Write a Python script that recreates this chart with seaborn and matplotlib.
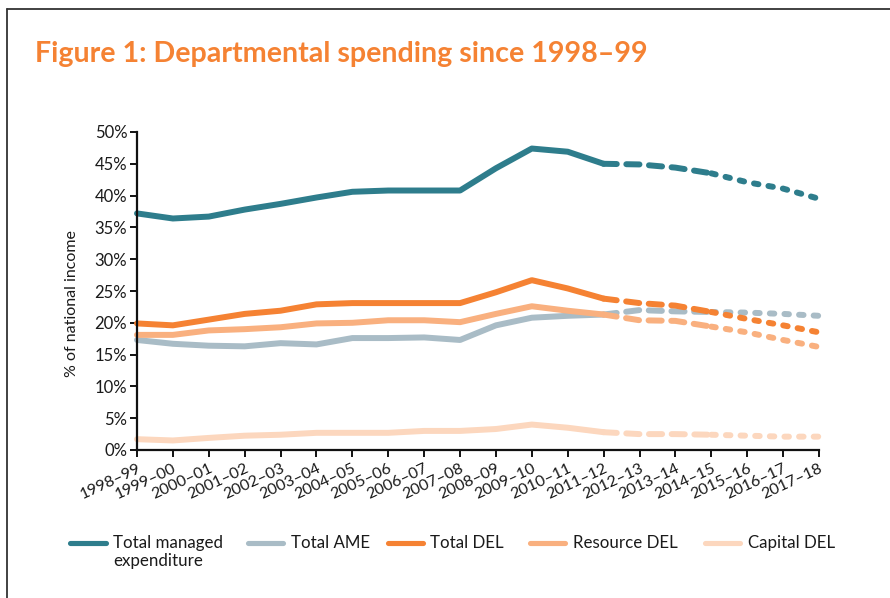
import matplotlib
matplotlib.use("Agg")
import matplotlib.pyplot as plt
from matplotlib.lines import Line2D
import seaborn as sns
import pandas as pd

years = ["1998–99", "1999–00", "2000–01", "2001–02", "2002–03", "2003–04",
         "2004–05", "2005–06", "2006–07", "2007–08", "2008–09", "2009–10",
         "2010–11", "2011–12", "2012–13", "2013–14", "2014–15", "2015–16",
         "2016–17", "2017–18"]

total_managed = [37.2, 36.4, 36.7, 37.8, 38.7, 39.7, 40.6, 40.8, 40.8, 40.8,
                 44.3, 47.4, 46.9, 45.0, 44.9, 44.4, 43.5, 42.1, 41.1, 39.5]
total_ame = [17.3, 16.7, 16.4, 16.3, 16.8, 16.6, 17.6, 17.6, 17.7, 17.3,
             19.6, 20.8, 21.1, 21.3, 22.0, 21.8, 21.7, 21.6, 21.4, 21.1]
total_del = [19.9, 19.6, 20.5, 21.4, 21.9, 22.9, 23.1, 23.1, 23.1, 23.1,
             24.8, 26.7, 25.4, 23.8, 23.1, 22.7, 21.7, 20.6, 19.6, 18.5]
resource_del = [18.1, 18.1, 18.8, 19.0, 19.3, 19.9, 20.0, 20.4, 20.4, 20.1,
                21.4, 22.6, 21.9, 21.3, 20.4, 20.3, 19.4, 18.5, 17.3, 16.2]
capital_del = [1.7, 1.5, 1.9, 2.25, 2.4, 2.7, 2.7, 2.7, 3.0, 3.0,
               3.3, 4.0, 3.5, 2.8, 2.5, 2.5, 2.4, 2.25, 2.1, 2.1]

series_names = ["Total managed\nexpenditure", "Total AME", "Total DEL",
                "Resource DEL", "Capital DEL"]
series_values = [total_managed, total_ame, total_del, resource_del, capital_del]
colors = ["#2e7d8c", "#a9bcc6", "#f58233", "#f9b07f", "#fcd7be"]
y_ticks = [0, 5, 10, 15, 20, 25, 30, 35, 40, 45, 50]

# outturn is solid, the plans are dashed, later projections dotted
last_outturn = 13
last_plan = 16

sns.set_theme(style="white")
plt.rcParams["font.family"] = ["Lato", "DejaVu Sans"]

W, H = 890, 598
fig = plt.figure(figsize=(W / 100, H / 100), dpi=100)
ax = fig.add_axes([137 / W, 1 - 450 / H, (819 - 137) / W, (450 - 132) / H])

lw = 4.3
draw_order = [4, 1, 3, 2, 0]
for i in draw_order:
    df = pd.DataFrame({"x": range(len(years)), "y": series_values[i]})
    segments = [
        (df[df.x <= last_outturn], None),
        (df[(df.x >= last_outturn) & (df.x <= last_plan)], (2.2, 1.6)),
        (df[df.x >= last_plan], (0.75, 1.7)),
    ]
    for seg, dash in segments:
        sns.lineplot(data=seg, x="x", y="y", ax=ax, color=colors[i], lw=lw,
                     solid_capstyle="round", dash_capstyle="round",
                     solid_joinstyle="round", clip_on=False, legend=False)
        if dash is not None:
            ax.lines[-1].set_linestyle((0, dash))

ax.set_xlim(0, len(years) - 1)
ax.set_ylim(0, 50)
ax.set_yticks(y_ticks)
ax.set_yticklabels([f"{v}%" for v in y_ticks])
ax.set_xticks(range(len(years)))
ax.set_xticklabels(years, rotation=25, ha="right", rotation_mode="anchor")
ax.set_xlabel("")
ax.set_ylabel("% of national income", fontsize=11.5, color="#1a1a1a")
ax.yaxis.set_label_coords(-0.085, 0.46)

for side in ["top", "right"]:
    ax.spines[side].set_visible(False)
for side in ["left", "bottom"]:
    ax.spines[side].set_color("#111111")
    ax.spines[side].set_linewidth(1.6)
ax.tick_params(axis="both", which="major", direction="out", length=5, width=1.4,
               color="#111111", labelsize=12, labelcolor="#1a1a1a", pad=2)
ax.tick_params(axis="x", pad=3, bottom=True, labelsize=11.5)
ax.tick_params(axis="y", left=True)

# legend row below the axes
legend_y = 1 - 543 / H
handle_x = [(67, 108), (245, 285), (385, 425), (527, 567), (702, 742)]
text_x = [113, 291, 430, 573, 748]
for (x0, x1), tx, name, c in zip(handle_x, text_x, series_names, colors):
    fig.add_artist(Line2D([(x0 + 2.5) / W, (x1 - 2.5) / W], [legend_y, legend_y],
                          transform=fig.transFigure, color=c, lw=3.7,
                          solid_capstyle="round"))
    first, *rest = name.split("\n")
    fig.text(tx / W, legend_y, first, fontsize=12.2, color="#1a1a1a",
             ha="left", va="center")
    for k, line in enumerate(rest, start=1):
        fig.text(tx / W, legend_y - k * 18 / H, line, fontsize=12.2,
                 color="#1a1a1a", ha="left", va="center")

fig.text(35 / W, 1 - 62 / H, "Figure 1: Departmental spending since 1998–99",
         color="#f58233", fontsize=20.6, fontweight="bold",
         ha="left", va="baseline")

# panel frame along the top and left
fig.add_artist(Line2D([7 / W, 1.0], [1 - 9 / H, 1 - 9 / H], transform=fig.transFigure,
                      color="#333333", lw=1.3))
fig.add_artist(Line2D([7 / W, 7 / W], [0.0, 1 - 9 / H], transform=fig.transFigure,
                      color="#333333", lw=1.3))

fig.savefig("out.png", dpi=100)
